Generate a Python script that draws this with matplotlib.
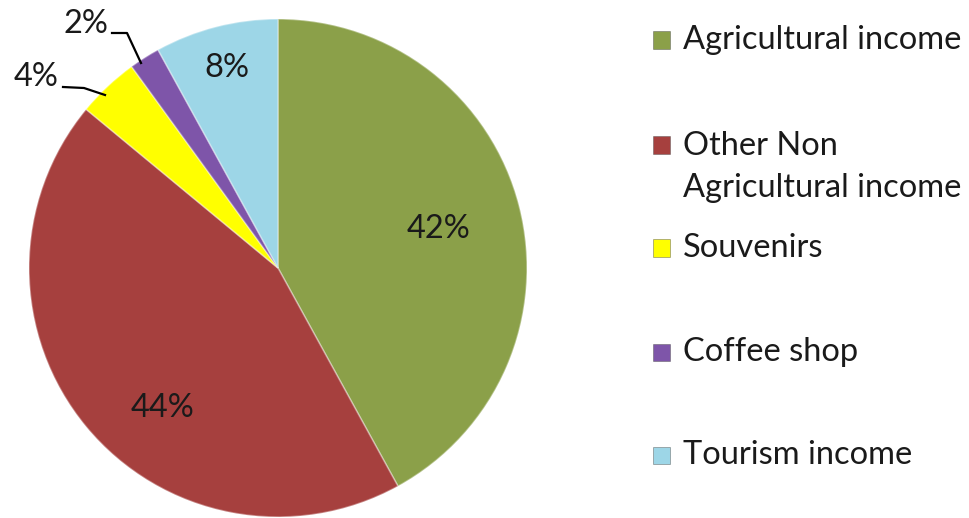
import matplotlib
matplotlib.use("Agg")
import matplotlib.pyplot as plt
from matplotlib.patches import Rectangle

categories = ["Agricultural income", "Other Non\nAgricultural income",
              "Souvenirs", "Coffee shop", "Tourism income"]
shares = [42, 44, 4, 2, 8]
colors = ["#8BA049", "#A6403E", "#FFFF00", "#7E55A9", "#9DD6E7"]
pct_labels = ["42%", "44%", "4%", "2%", "8%"]

FONT = ["Lato", "DejaVu Sans"]
plt.rcParams["font.family"] = FONT

W, H = 970, 518
fig = plt.figure(figsize=(W / 100, H / 100), dpi=100)
fig.patch.set_facecolor("white")

# pie centred at (278, 268) px with radius 249 px
cx, cy, r = 278, 268, 249
ax = fig.add_axes([(cx - r) / W, (H - cy - r) / H, 2 * r / W, 2 * r / H])
wedges, _ = ax.pie(shares, colors=colors, startangle=90, counterclock=False,
                   radius=1.0,
                   wedgeprops=dict(edgecolor=(1, 1, 1, 0.35), linewidth=1.2))
ax.set_xlim(-1, 1)
ax.set_ylim(-1, 1)
ax.set_aspect("equal")
ax.axis("off")


def px(x, y):
    """pixel position -> axes data coordinates"""
    return (x - cx) / r, (cy - y) / r


fs = 23.5
# labels inside the big slices
inside = {0: (439, 229), 1: (163, 408), 4: (227, 68)}
for i, (x, y) in inside.items():
    ax.text(*px(x, y), pct_labels[i], ha="center", va="center",
            fontsize=fs, color="#1a1a1a")

# outside labels with leader lines for the thin slices
outside = {
    2: ((36, 77), [(63, 87), (84, 88), (105, 95)]),
    3: ((86, 24), [(112, 33), (127, 33), (141, 63)]),
}
for i, ((x, y), pts) in outside.items():
    ax.text(*px(x, y), pct_labels[i], ha="center", va="center",
            fontsize=fs, color="#1a1a1a", clip_on=False)
    xs, ys = zip(*[px(a, b) for a, b in pts])
    ax.plot(xs, ys, color="black", lw=1.6, clip_on=False)

# legend (centre of each entry's text block, in px from top)
legend_rows = [40, 167, 248, 352, 455]
marker_rows = [40, 145, 248, 352, 455]
sq = 17
for lab, col, yc, ym in zip(categories, colors, legend_rows, marker_rows):
    fig.patches.append(Rectangle((653 / W, (H - ym - sq / 2) / H), sq / W, sq / H,
                                 transform=fig.transFigure, facecolor=col,
                                 edgecolor=(0.3, 0.3, 0.3, 0.5), linewidth=0.6))
    fig.text(683 / W, (H - yc) / H, lab, ha="left", va="center",
             fontsize=fs, color="#1a1a1a", linespacing=1.52)

fig.savefig("out.png", dpi=100, facecolor="white")
